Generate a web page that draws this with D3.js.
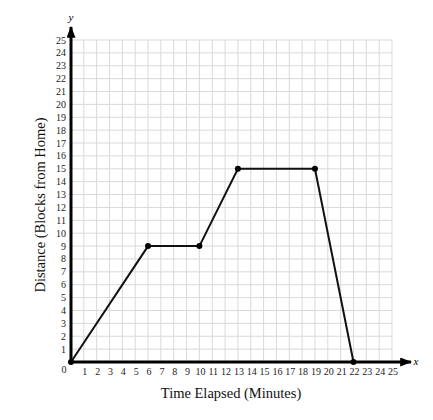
<!DOCTYPE html>
<html><head><meta charset="utf-8">
<script src="https://cdn.jsdelivr.net/npm/d3@7"></script>
<style>body{margin:0;background:#fff}svg{display:block}</style>
</head><body>
<svg id="c" width="433" height="420"></svg>
<script>
const timeMinutes = [0, 6, 10, 13, 19, 22];
const distanceBlocks = [0, 9, 9, 15, 15, 0];
const xTicks = d3.range(1, 26);
const yTicks = d3.range(1, 26);
const xTitle = "Time Elapsed (Minutes)";
const yTitle = "Distance (Blocks from Home)";

const svg = d3.select("#c");
const x = d3.scaleLinear().domain([0, 25]).range([71, 392]);
const y = d3.scaleLinear().domain([0, 25]).range([362, 40]);
const font = "'Liberation Serif', 'DejaVu Serif', serif";

// grid
const g = svg.append("g");
g.selectAll(".vx").data(d3.range(1, 26)).join("line")
  .attr("x1", d => x(d)).attr("x2", d => x(d)).attr("y1", y(0)).attr("y2", y(25))
  .attr("stroke", "#d9d9d9").attr("stroke-width", 1);
g.selectAll(".hy").data(d3.range(1, 26)).join("line")
  .attr("y1", d => y(d)).attr("y2", d => y(d)).attr("x1", x(0)).attr("x2", x(25))
  .attr("stroke", "#d9d9d9").attr("stroke-width", 1);

// axes
svg.append("defs").append("marker").attr("id", "arr")
  .attr("viewBox", "0 0 10 10").attr("refX", 9).attr("refY", 5)
  .attr("markerWidth", 4).attr("markerHeight", 3).attr("orient", "auto")
  .attr("markerUnits", "strokeWidth").attr("preserveAspectRatio", "none")
  .append("path").attr("d", "M0,0 L10,5 L0,10 z").attr("fill", "#000");
svg.append("line").attr("x1", x(0)).attr("y1", y(0)).attr("x2", 411).attr("y2", y(0))
  .attr("stroke", "#000").attr("stroke-width", 3).attr("marker-end", "url(#arr)");
svg.append("line").attr("x1", x(0)).attr("y1", y(0)).attr("x2", x(0)).attr("y2", 27)
  .attr("stroke", "#000").attr("stroke-width", 3).attr("marker-end", "url(#arr)");

svg.append("text").attr("x", 416).attr("y", y(0) + 3).attr("font-family", font)
  .attr("font-style", "italic").attr("font-size", 11).attr("text-anchor", "middle").text("x");
svg.append("text").attr("x", x(0)).attr("y", 21).attr("font-family", font)
  .attr("font-style", "italic").attr("font-size", 11).attr("text-anchor", "middle").text("y");

// tick labels
svg.append("g").selectAll("text").data(xTicks).join("text")
  .attr("x", d => x(d) + 1).attr("y", y(0) + 13)
  .attr("font-family", font).attr("font-size", 10).attr("text-anchor", "middle")
  .attr("fill", "#222").text(d => d);
svg.append("g").selectAll("text").data(yTicks).join("text")
  .attr("x", x(0) - 5).attr("y", d => y(d) + 3.5)
  .attr("font-family", font).attr("font-size", 10).attr("text-anchor", "end")
  .attr("fill", "#222").text(d => d);
svg.append("text").attr("x", x(0) - 7).attr("y", y(0) + 11)
  .attr("font-family", font).attr("font-size", 10).attr("text-anchor", "middle")
  .attr("fill", "#222").text("0");

// titles
svg.append("text").attr("x", 231).attr("y", 398).attr("font-family", font)
  .attr("font-size", 14.5).attr("text-anchor", "middle").attr("fill", "#111").text(xTitle);
svg.append("text").attr("transform", "translate(45,205) rotate(-90)").attr("font-family", font)
  .attr("font-size", 14.5).attr("text-anchor", "middle").attr("fill", "#111").text(yTitle);

// data line
const pts = timeMinutes.map((t, i) => [t, distanceBlocks[i]]);
svg.append("path").datum(pts)
  .attr("d", d3.line().x(d => x(d[0])).y(d => y(d[1])))
  .attr("fill", "none").attr("stroke", "#111").attr("stroke-width", 2);
svg.append("g").selectAll("circle").data(pts).join("circle")
  .attr("cx", d => x(d[0])).attr("cy", d => y(d[1])).attr("r", 3).attr("fill", "#000");
</script>
</body></html>
